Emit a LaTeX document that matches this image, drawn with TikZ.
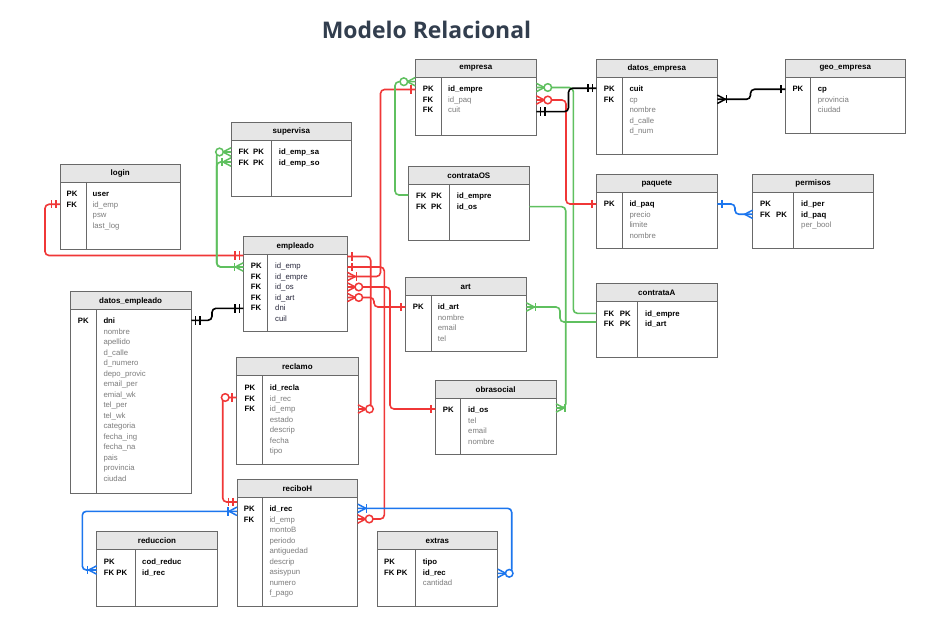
\documentclass[tikz,border=0pt]{standalone}
\usepackage{fontspec}
\setmainfont{Liberation Sans}
\newfontfamily\titlefont{Open Sans}
\usetikzlibrary{calc}
\definecolor{erred}{RGB}{240,55,55}
\definecolor{ergreen}{RGB}{95,192,95}
\definecolor{erblue}{RGB}{28,118,238}
\definecolor{tblgray}{RGB}{105,105,105}
\definecolor{hdrfill}{RGB}{230,230,230}
\definecolor{fieldgray}{RGB}{125,125,125}
\definecolor{darktxt}{RGB}{40,40,60}
\definecolor{titlecol}{RGB}{50,62,78}
\newcommand\K[1]{{\bfseries\color{black}#1}}
\newcommand\Dk[1]{{\color{darktxt}#1}}
\newcommand\FP[1]{\makebox[#1bp][l]{FK}PK}
\tikzset{
  tbl/.style={draw=tblgray, line width=0.9bp, inner sep=0pt, outer sep=0pt},
  tblline/.style={draw=tblgray, line width=0.9bp},
  hdr/.style={font=\fontsize{8}{9.6}\selectfont\bfseries, text=black, inner sep=0pt},
  keytxt/.style={font=\fontsize{7.8}{9}\selectfont\bfseries, anchor=base west, inner sep=0pt, text=black},
  fldtxt/.style={font=\fontsize{7.8}{9}\selectfont, anchor=base west, inner sep=0pt, text=fieldgray},
  conn/.style={line width=1.6bp, rounded corners=4bp},
  mk/.style={line width=1.5bp}
}
% table: name, x, y, w, h, divider x, title
\newcommand{\ertable}[7]{%
  \fill[hdrfill] (#2,#3) rectangle ++(#4,18);
  \node[tbl, minimum width=#4 bp, minimum height=#5 bp, anchor=north west] (#1) at (#2,#3) {};
  \draw[tblline] ({#2},{#3+18}) -- ++(#4,0);
  \draw[tblline] ({#6},{#3+18}) -- ({#6},{#3+#5});
  \node[hdr] (#1-title) at ({#2+#4/2},{#3+9.3}) {#7};
}
% rows: name, x, baseline y0, style, list
\newcommand{\rows}[5]{%
  \foreach \t [count=\i] in {#5} \node[#4] (#1-\i) at ({#2},{#3+\i*10.5-10.5}) {\t};
}
% markers: color, x, y, s (direction away from table)
\newcommand\mbar[4]{\draw[#1,mk] ({#2+(#4)},{#3-4.2}) -- ({#2+(#4)},{#3+4.2});}
\newcommand\mfoot[4]{\draw[#1,mk] ({#2},{#3-4.2}) -- ({#2+(#4)*8},{#3}) -- ({#2},{#3+4.2});}
\newcommand\mcirc[4]{\draw[#1,mk,fill=white] ({#2+(#4)*11.5},{#3}) circle (3.8bp);}
\newcommand\mOne[4]{\mbar{#1}{#2}{#3}{(#4)*4.5}}
\newcommand\mOnlyOne[4]{\mbar{#1}{#2}{#3}{(#4)*4}\mbar{#1}{#2}{#3}{(#4)*8.5}}
\newcommand\mMany[4]{\mfoot{#1}{#2}{#3}{#4}}
\newcommand\mOneMany[4]{\mfoot{#1}{#2}{#3}{#4}\mbar{#1}{#2}{#3}{(#4)*9}}
\newcommand\mZeroMany[4]{\mfoot{#1}{#2}{#3}{#4}\mcirc{#1}{#2}{#3}{#4}}
\newcommand\mZeroOne[4]{\mbar{#1}{#2}{#3}{(#4)*4.5}\mcirc{#1}{#2}{#3}{#4}}
\begin{document}
\begin{tikzpicture}[x=1bp,y=-1bp]
\fill[white] (0,0) rectangle (942,617);
\useasboundingbox (0,0) rectangle (942,617);

\node[font=\titlefont\bfseries\fontsize{23}{28}\selectfont, text=titlecol] (title) at (426.5,30) {Modelo Relacional};

% ---------- tables ----------
\ertable{login}{60}{164}{120.5}{85}{86}{login}
\rows{loginK}{66.5}{196.8}{keytxt}{PK,FK}
\rows{loginF}{92.5}{196.8}{fldtxt}{\K{user},id\_emp,psw,last\_log}

\ertable{supervisa}{231}{122.3}{120.7}{74}{271.3}{supervisa}
\rows{supervisaK}{238.3}{154.8}{keytxt}{\FP{14.7},\FP{14.7}}
\rows{supervisaF}{278.7}{154.8}{fldtxt}{\K{id\_emp\_sa},\K{id\_emp\_so}}

\ertable{empleado}{243.3}{236.7}{104}{94.6}{267.3}{empleado}
\rows{empleadoK}{250.7}{268.8}{keytxt}{PK,FK,FK,FK,FK}
\rows{empleadoF}{275}{268.8}{fldtxt}{\Dk{id\_emp},\Dk{id\_empre},\Dk{id\_os},\Dk{id\_art},\Dk{dni},\Dk{cuil}}

\ertable{datosempleado}{70}{291.7}{121.3}{201.6}{96.7}{datos\_empleado}
\rows{datosempleadoK}{77.7}{323.8}{keytxt}{PK}
\rows{datosempleadoF}{103.3}{323.8}{fldtxt}{\K{dni},nombre,apellido,d\_calle,d\_numero,depo\_provic,email\_per,emial\_wk,tel\_per,tel\_wk,categoria,fecha\_ing,fecha\_na,pais,provincia,ciudad}

\ertable{reclamo}{236.7}{357.3}{121.3}{107}{262.3}{reclamo}
\rows{reclamoK}{244.3}{390.8}{keytxt}{PK,FK,FK}
\rows{reclamoF}{269.7}{390.8}{fldtxt}{\K{id\_recla},id\_rec,id\_emp,estado,descrip,fecha,tipo}

\ertable{reciboH}{237}{479}{120.7}{127.3}{262.7}{reciboH}
\rows{reciboHK}{243.7}{511.8}{keytxt}{PK,FK}
\rows{reciboHF}{269.3}{511.8}{fldtxt}{\K{id\_rec},id\_emp,montoB,periodo,antiguedad,descrip,asisypun,numero,f\_pago}

\ertable{reduccion}{96.7}{531.7}{120.6}{74.6}{135}{reduccion}
\rows{reduccionK}{103.7}{564.8}{keytxt}{PK,FK PK}
\rows{reduccionF}{142}{564.8}{fldtxt}{\K{cod\_reduc},\K{id\_rec}}

\ertable{extras}{377}{531.7}{120.7}{74.6}{415.7}{extras}
\rows{extrasK}{384}{564.8}{keytxt}{PK,FK PK}
\rows{extrasF}{422.7}{564.8}{fldtxt}{\K{tipo},\K{id\_rec},cantidad}

\ertable{empresa}{415.3}{59.3}{121}{76}{441}{empresa}
\rows{empresaK}{422.7}{91.8}{keytxt}{PK,FK,FK}
\rows{empresaF}{448}{91.8}{fldtxt}{\K{id\_empre},id\_paq,cuit}

\ertable{contrataOS}{408.3}{166.3}{121}{74.4}{449.3}{contrataOS}
\rows{contrataOSK}{416}{198.8}{keytxt}{\FP{15},\FP{15}}
\rows{contrataOSF}{456.7}{198.8}{fldtxt}{\K{id\_empre},\K{id\_os}}

\ertable{datosempresa}{596.3}{59.3}{121}{95}{622.3}{datos\_empresa}
\rows{datosempresaK}{603.7}{91.8}{keytxt}{PK,FK}
\rows{datosempresaF}{629.3}{91.8}{fldtxt}{\K{cuit},cp,nombre,d\_calle,d\_num}

\ertable{geoempresa}{785.3}{59.3}{120}{74}{810.7}{geo\_empresa}
\rows{geoempresaK}{792.3}{91.8}{keytxt}{PK}
\rows{geoempresaF}{817.7}{91.8}{fldtxt}{\K{cp},provincia,ciudad}

\ertable{paquete}{596.3}{174.3}{121}{74}{622.3}{paquete}
\rows{paqueteK}{603.7}{206.8}{keytxt}{PK}
\rows{paqueteF}{629.3}{206.8}{fldtxt}{\K{id\_paq},precio,limite,nombre}

\ertable{permisos}{752.7}{174.3}{121}{74}{793.3}{permisos}
\rows{permisosK}{760}{206.8}{keytxt}{PK,\FP{16}}
\rows{permisosF}{801}{206.8}{fldtxt}{\K{id\_per},\K{id\_paq},per\_bool}

\ertable{contrataA}{596.3}{283.3}{121}{74}{637.3}{contrataA}
\rows{contrataAK}{603.7}{316}{keytxt}{\FP{16},\FP{16}}
\rows{contrataAF}{645}{316}{fldtxt}{\K{id\_empre},\K{id\_art}}

\ertable{art}{405.3}{277.3}{121}{74}{431}{art}
\rows{artK}{412.7}{309.8}{keytxt}{PK}
\rows{artF}{437.7}{309.8}{fldtxt}{\K{id\_art},nombre,email,tel}

\ertable{obrasocial}{435.3}{380.3}{120.7}{74}{460.7}{obrasocial}
\rows{obrasocialK}{442.7}{412.8}{keytxt}{PK}
\rows{obrasocialF}{468}{412.8}{fldtxt}{\K{id\_os},tel,email,nombre}

% ---------- connector end points ----------
\coordinate (c1a) at (60,204.3);     \coordinate (c1b) at (243.3,255.5);
\coordinate (c2a) at (231,152);      \coordinate (c2b) at (231,162);   \coordinate (c2e) at (243.3,267);
\coordinate (c3a) at (191.3,320.3);  \coordinate (c3b) at (243.3,308.3);
\coordinate (c4a) at (347.3,256.5);  \coordinate (c4b) at (358,409);
\coordinate (c5a) at (347.3,267);    \coordinate (c5b) at (357.7,519);
\coordinate (c6a) at (347.3,276.5);  \coordinate (c6b) at (415.3,89.5);
\coordinate (c7a) at (347.3,287);    \coordinate (c7b) at (435.3,409);
\coordinate (c8a) at (347.3,297.5);  \coordinate (c8b) at (405.3,307);
\coordinate (c9a) at (236.7,397.5);  \coordinate (c9b) at (237,502);
\coordinate (c10a) at (237,511.3);   \coordinate (c10b) at (96.7,570);
\coordinate (c11a) at (357.7,508.3); \coordinate (c11b) at (497.7,573.3);
\coordinate (c12a) at (408.3,195);   \coordinate (c12b) at (415.3,81.7);
\coordinate (c13a) at (596.3,313.3); \coordinate (c13b) at (536.3,87.5);
\coordinate (c14a) at (536.3,100);   \coordinate (c14b) at (596.3,204);
\coordinate (c15a) at (536.3,111.7); \coordinate (c15b) at (596.3,88.3);
\coordinate (c16a) at (717.3,99.3);  \coordinate (c16b) at (785.3,89.3);
\coordinate (c17a) at (717.3,204);   \coordinate (c17b) at (752.7,214.3);
\coordinate (c18a) at (529.3,206.7); \coordinate (c18b) at (556,408);
\coordinate (c19a) at (526.3,307);   \coordinate (c19b) at (596.3,322);

% ---------- connectors ----------
\draw[conn, erred] (c1a) -- ++(-15,0) |- (c1b);
\draw[conn, ergreen] (c2a) -- (216.7,152) |- (c2e);
\draw[conn, ergreen] (c2b) -- (216.7,162) |- (c2e);
\draw[conn, black] (c3a) -- (212,320.3) |- (c3b);
\draw[conn, erred] (c4a) -- (370.7,256.5) |- (c4b);
\draw[conn, erred] (c5a) -- (384.3,267) |- (c5b);
\draw[conn, erred] (c6a) -- (380.5,276.5) |- (c6b);
\draw[conn, erred] (c7a) -- (390,287) |- (c7b);
\draw[conn, erred] (c8a) -- (374,297.5) |- (c8b);
\draw[conn, erred] (c9a) -- (222.7,397.5) |- (c9b);
\draw[conn, erblue] (c10a) -- (82.3,511.3) |- (c10b);
\draw[conn, erblue] (c11a) -- (511.7,508.3) |- (c11b);
\draw[conn, ergreen] (c12a) -- (395,195) |- (c12b);
\draw[conn, ergreen] (c13a) -- (573.3,313.3) |- (c13b);
\draw[conn, erred] (c14a) -- (566,100) |- (c14b);
\draw[conn, black] (c15a) -- (568.5,111.7) |- (c15b);
\draw[conn, black] (c16a) -- (750.5,99.3) |- (c16b);
\draw[conn, erblue] (c17a) -- (735,204) |- (c17b);
\draw[conn, ergreen] (c18a) -- (565.7,206.7) |- (c18b);
\draw[conn, ergreen] (c19a) -- (560,307) |- (c19b);

% ---------- markers ----------
\mOnlyOne{erred}{60}{204.3}{-1}
\mOnlyOne{erred}{243.3}{255.5}{-1}
\mZeroMany{ergreen}{231}{152}{-1}
\mOneMany{ergreen}{231}{162}{-1}
\mOneMany{ergreen}{243.3}{267}{-1}
\mOnlyOne{black}{191.3}{320.3}{1}
\mOnlyOne{black}{243.3}{308.3}{-1}
\mOne{erred}{347.3}{256.5}{1}
\mZeroMany{erred}{358}{409}{1}
\mOne{erred}{347.3}{267}{1}
\mZeroMany{erred}{357.7}{519}{1}
\mOneMany{erred}{347.3}{276.5}{1}
\mOne{erred}{415.3}{89.5}{-1}
\mZeroMany{erred}{347.3}{287}{1}
\mOne{erred}{435.3}{409}{-1}
\mZeroMany{erred}{347.3}{297.5}{1}
\mOne{erred}{405.3}{307}{-1}
\mZeroOne{erred}{236.7}{397.5}{-1}
\mOnlyOne{erred}{237}{502}{-1}
\mOneMany{erblue}{237}{511.3}{-1}
\mOneMany{erblue}{96.7}{570}{-1}
\mOneMany{erblue}{357.7}{508.3}{1}
\mZeroMany{erblue}{497.7}{573.3}{1}
\mZeroMany{ergreen}{415.3}{81.7}{-1}
\mZeroMany{ergreen}{536.3}{87.5}{1}
\mZeroMany{erred}{536.3}{100}{1}
\mOne{erred}{596.3}{204}{-1}
\mOnlyOne{black}{536.3}{111.7}{1}
\mOnlyOne{black}{596.3}{88.3}{-1}
\mOneMany{black}{717.3}{99.3}{1}
\mOne{black}{785.3}{89.3}{-1}
\mOne{erblue}{717.3}{204}{1}
\mMany{erblue}{752.7}{214.3}{-1}
\mOneMany{ergreen}{556}{408}{1}
\mOneMany{ergreen}{526.3}{307}{1}
\end{tikzpicture}
\end{document}
